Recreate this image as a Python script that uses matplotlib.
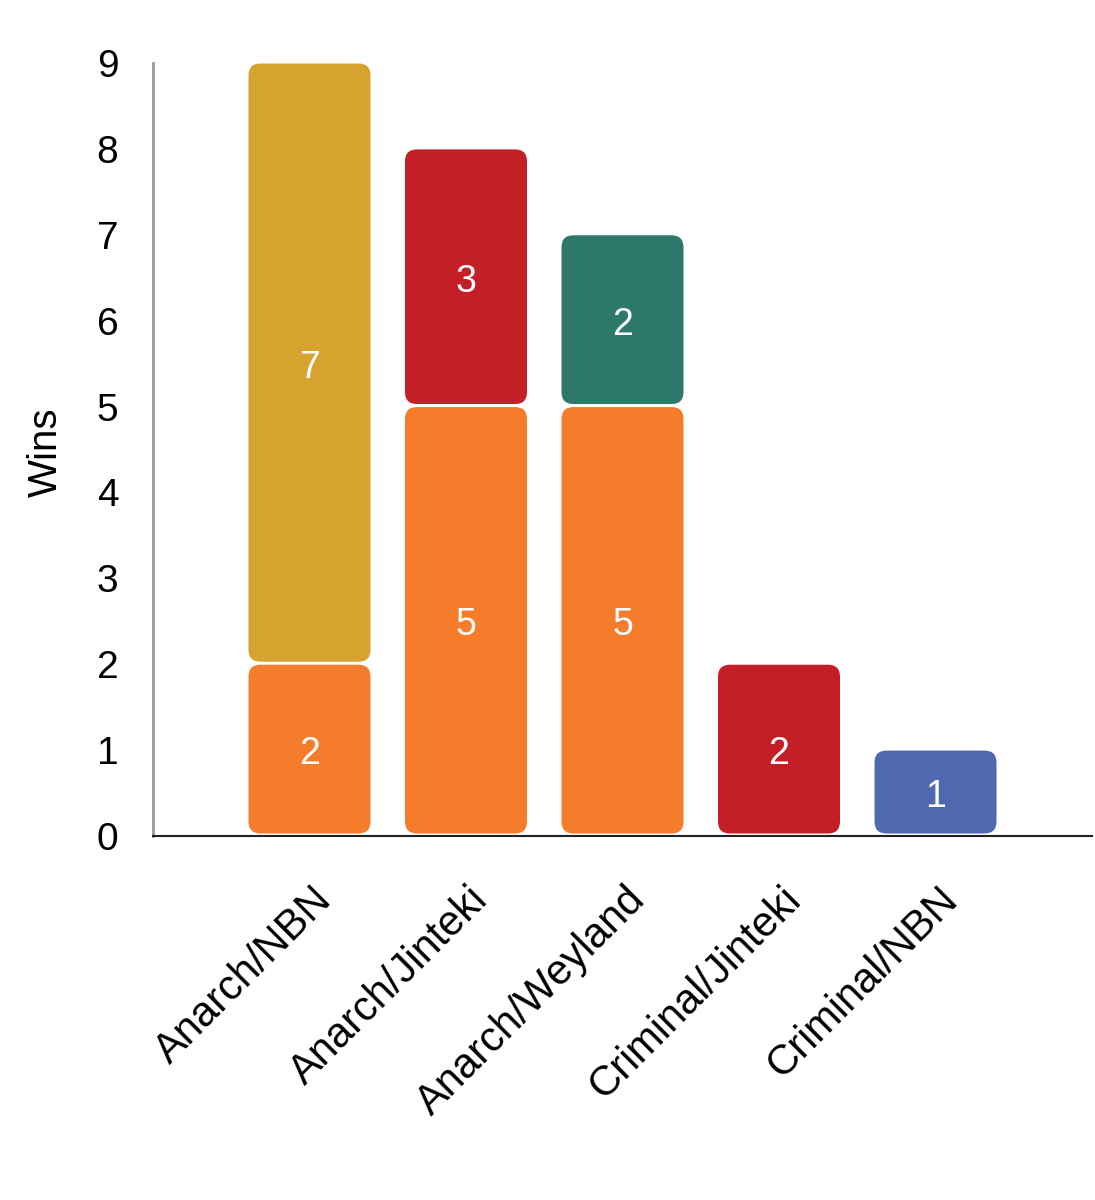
import matplotlib
matplotlib.use("Agg")
import matplotlib.pyplot as plt
from matplotlib.patches import FancyBboxPatch
from matplotlib.transforms import ScaledTranslation

plt.rcParams['font.family'] = ['Liberation Sans', 'DejaVu Sans']

categories = ["Anarch/NBN", "Anarch/Jinteki", "Anarch/Weyland", "Criminal/Jinteki", "Criminal/NBN"]
bottom_values = [2, 5, 5, 2, 1]
bottom_colors = ["#F47C2A", "#F47C2A", "#F47C2A", "#C41F27", "#4F69B1"]
top_values = [7, 3, 2, 0, 0]
top_colors = ["#D7A32F", "#C41F27", "#2E786B", "#C41F27", "#4F69B1"]
y_ticks = [0, 1, 2, 3, 4, 5, 6, 7, 8, 9]

W, H, DPI = 1095, 1200, 100
fig = plt.figure(figsize=(W / DPI, H / DPI), dpi=DPI)
ax_l, ax_r, ax_t, ax_b = 153, 1092, 63, 836
ax = fig.add_axes([ax_l / W, 1 - ax_b / H, (ax_r - ax_l) / W, (ax_b - ax_t) / H])

xmin, xmax, ymin, ymax = -1.0, 5.0, 0, 9
ax.set_xlim(xmin, xmax)
ax.set_ylim(ymin, ymax)

ppu_x = (ax_r - ax_l) / (xmax - xmin)
ppu_y = (ax_b - ax_t) / (ymax - ymin)
aspect = ppu_x / ppu_y
radius = 12 / ppu_x
bar_w = 122 / ppu_x
gap_bottom = 2.5 / ppu_y
gap_top = 0.5 / ppu_y

def draw_segment(xc, y0, h, color):
    if h <= 0:
        return
    yb = y0 + gap_bottom
    hh = h - gap_bottom - gap_top
    p = FancyBboxPatch((xc - bar_w / 2, yb), bar_w, hh,
                       boxstyle=f"round,pad=0,rounding_size={radius}",
                       mutation_aspect=aspect, facecolor=color,
                       edgecolor="none", linewidth=0)
    ax.add_patch(p)
    ax.text(xc, y0 + h / 2, str(h), color="white", fontsize=27,
            ha="center", va="center_baseline")

for i, cat in enumerate(categories):
    draw_segment(i, 0, bottom_values[i], bottom_colors[i])
    draw_segment(i, bottom_values[i], top_values[i], top_colors[i])

for s in ["top", "right"]:
    ax.spines[s].set_visible(False)
ax.spines["left"].set_color("#999999")
ax.spines["left"].set_linewidth(2)
ax.spines["bottom"].set_color("#222222")
ax.spines["bottom"].set_linewidth(1.5)

ax.set_yticks(y_ticks)
ax.set_yticklabels([str(t) for t in y_ticks], fontsize=28)
ax.tick_params(axis="y", length=0, pad=25)

ax.set_xticks(range(len(categories)))
ax.set_xticklabels(categories, fontsize=30, rotation=45, ha="right",
                   va="baseline", rotation_mode="anchor")
ax.tick_params(axis="x", length=0, pad=47)
off = ScaledTranslation(24 / DPI, 0, fig.dpi_scale_trans)
for lab in ax.get_xticklabels():
    lab.set_transform(lab.get_transform() + off)

ax.set_ylabel("Wins", fontsize=29, va="center")
ax.yaxis.set_label_coords((46 - ax_l) / (ax_r - ax_l), 0.497)

fig.savefig("out.png", dpi=DPI)
